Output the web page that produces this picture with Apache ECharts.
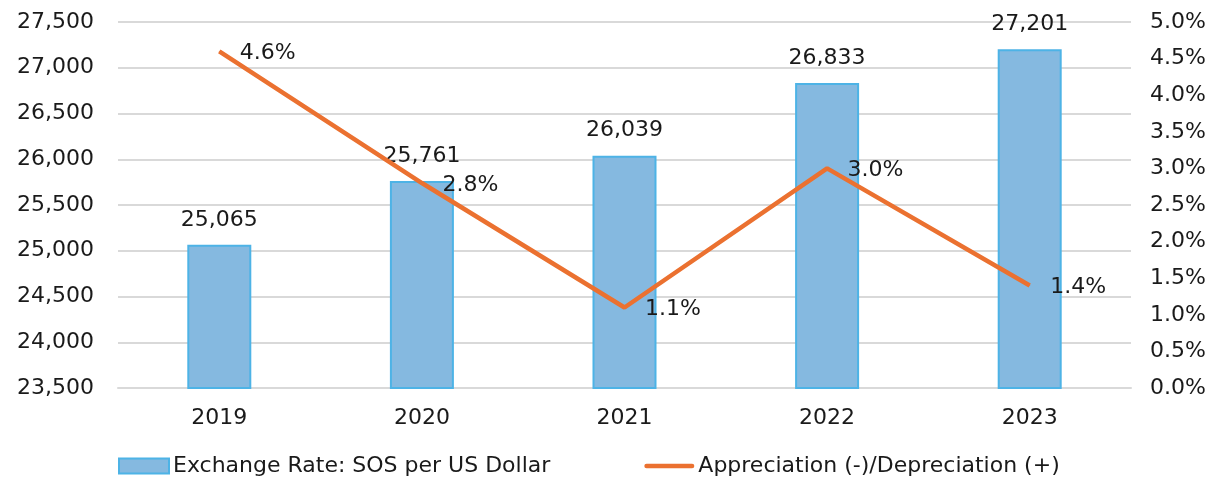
<!DOCTYPE html>
<html>
<head>
<meta charset="utf-8">
<script src="https://cdn.jsdelivr.net/npm/echarts@6/dist/echarts.min.js"></script>
<style>
  html, body { margin: 0; padding: 0; background: #fff; }
  #chart { width: 1217px; height: 486px; }
</style>
</head>
<body>
<div id="chart"></div>
<script>
const years = ['2019', '2020', '2021', '2022', '2023'];
const exchangeRate = [25065, 25761, 26039, 26833, 27201];
const depreciation = [0.046, 0.028, 0.011, 0.030, 0.014];

const font = '"DejaVu Sans", sans-serif';

const chart = echarts.init(document.getElementById('chart'));
chart.setOption({
  animation: false,
  textStyle: { fontFamily: font },
  grid: { left: 118, right: 86, top: 22, bottom: 98 },
  legend: {
    bottom: 4,
    left: 113,
    itemGap: 94,
    itemWidth: 50,
    itemHeight: 15,
    textStyle: { fontSize: 22, color: '#1a1a1a', fontFamily: font, padding: [0, 0, 0, -1] },
    data: [
      { name: 'Exchange Rate: SOS per US Dollar', icon: 'rect' },
      { name: 'Appreciation (-)/Depreciation (+)', icon: 'path://M2,0 L54,0 A2.5,2.5 0 0 1 54,5 L2,5 A2.5,2.5 0 0 1 2,0 Z' }
    ]
  },
  xAxis: {
    type: 'category',
    data: years,
    axisTick: { show: false },
    axisLine: { lineStyle: { color: '#d9d9d9', width: 2 } },
    axisLabel: { fontSize: 22, color: '#1a1a1a', margin: 19 }
  },
  yAxis: [
    {
      type: 'value',
      min: 23500,
      max: 27500,
      interval: 500,
      axisLine: { show: false },
      axisTick: { show: false },
      splitLine: { lineStyle: { color: '#d9d9d9', width: 2 } },
      axisLabel: {
        fontSize: 22, color: '#1a1a1a', margin: 24,
        formatter: v => v.toLocaleString('en-US')
      }
    },
    {
      type: 'value',
      min: 0,
      max: 0.05,
      interval: 0.005,
      axisLine: { show: false },
      axisTick: { show: false },
      splitLine: { show: false },
      axisLabel: {
        fontSize: 22, color: '#1a1a1a', margin: 19,
        formatter: v => (v * 100).toFixed(1) + '%'
      }
    }
  ],
  series: [
    {
      name: 'Exchange Rate: SOS per US Dollar',
      type: 'bar',
      data: exchangeRate,
      barWidth: 64,
      itemStyle: { color: '#85b9e0', borderColor: '#4db3e6', borderWidth: 2 },
      label: {
        show: true,
        position: 'top',
        distance: 14,
        fontSize: 22,
        color: '#1a1a1a',
        formatter: p => p.value.toLocaleString('en-US')
      }
    },
    {
      name: 'Appreciation (-)/Depreciation (+)',
      type: 'line',
      yAxisIndex: 1,
      data: depreciation,
      symbol: 'circle',
      symbolSize: 1,
      lineStyle: { color: '#eb7130', width: 4.5 },
      itemStyle: { color: '#eb7130' },
      label: {
        show: true,
        position: 'right',
        distance: 20,
        offset: [0, 2],
        fontSize: 22,
        color: '#1a1a1a',
        formatter: p => (p.value * 100).toFixed(1) + '%'
      }
    }
  ]
});
</script>
</body>
</html>
